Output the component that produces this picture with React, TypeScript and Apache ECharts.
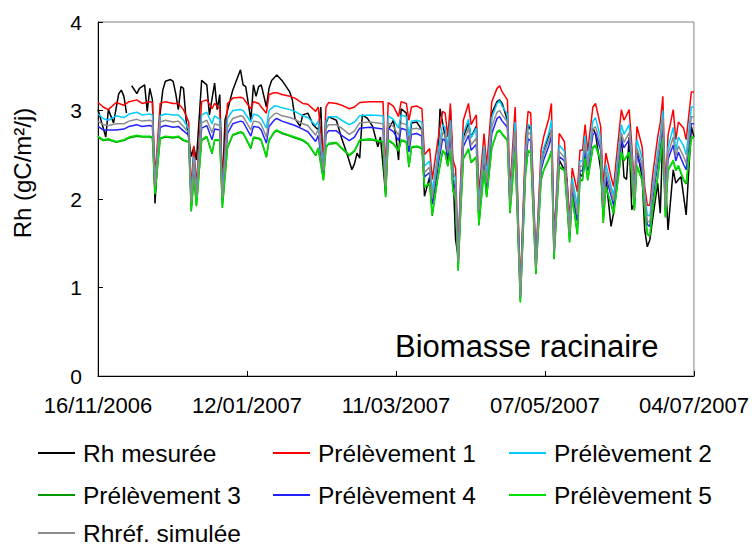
import React, { useEffect, useRef } from "react";
import * as echarts from "echarts";

const dateLabels = ["16/11/2006", "12/01/2007", "11/03/2007", "07/05/2007", "04/07/2007"];

// days since 16/11/2006 for simulated series
const simDays = [
  0, 2, 4, 7, 10, 12, 15, 17, 20, 21,
  22, 24, 26, 29, 31, 33, 35, 36, 37, 38,
  40, 42, 44, 45, 47, 48, 50, 52, 55, 56,
  59, 60, 62, 63, 65, 66, 68, 69, 71, 74,
  76, 79, 81, 84, 85, 87, 88, 89, 92, 94,
  97, 99, 101, 105, 110, 111, 112, 114, 115, 116,
  117, 119, 120, 121, 123, 125, 126, 128, 129, 131,
  133, 134, 135, 136, 137, 138, 139, 140, 141, 143,
  144, 146, 147, 149, 150, 152, 154, 155, 156, 158,
  159, 161, 163, 165, 166, 167, 169, 171, 172, 174,
  175, 176, 178, 180, 181, 182, 183, 185, 186, 187,
  188, 189, 191, 192, 194, 195, 196, 198, 199, 200,
  202, 203, 205, 206, 207, 208, 210, 211, 212, 213,
  214, 216, 217, 218, 219, 220, 222, 223, 224, 226,
  227, 229, 230,
];

const prelevement1 = [
  3.09, 3.04, 3.01, 3.09, 3.06, 3.10, 3.12, 3.08, 3.10, 3.09,
  2.25, 3.08, 3.10, 3.08, 3.08, 3.01, 2.87, 2.10, 2.60, 2.15,
  3.10, 3.12, 3.02, 3.08, 3.02, 2.15, 3.08, 3.14, 3.15, 3.14,
  3.02, 3.10, 3.08, 3.04, 2.97, 3.18, 3.20, 3.20, 3.18, 3.16,
  3.14, 3.08, 3.07, 2.99, 3.04, 2.45, 3.04, 3.09, 3.08, 3.06,
  3.02, 3.04, 3.09, 3.10, 3.10, 2.30, 3.09, 3.05, 2.99, 2.93,
  3.10, 3.08, 2.89, 3.04, 3.05, 3.02, 2.50, 2.57, 2.22, 2.63,
  2.99, 2.97, 2.70, 3.08, 2.44, 2.35, 1.40, 2.25, 2.89, 3.08,
  2.84, 2.95, 2.06, 2.74, 2.37, 3.10, 3.25, 3.28, 3.21, 3.12,
  2.10, 3.04, 0.98, 2.67, 2.99, 2.97, 1.32, 2.55, 2.70, 2.91,
  3.08, 1.48, 2.74, 2.65, 2.22, 1.75, 2.35, 2.08, 2.55, 2.55,
  2.84, 2.54, 3.04, 3.08, 2.82, 2.14, 2.52, 2.25, 2.14, 2.44,
  3.01, 2.89, 3.01, 2.61, 2.14, 2.82, 2.59, 2.14, 1.93, 1.93,
  2.25, 2.70, 2.86, 3.16, 2.05, 2.72, 3.01, 2.67, 2.87, 2.80,
  2.67, 3.21, 3.21,
];

const prelevement2 = [
  2.96, 2.91, 2.89, 2.94, 2.92, 2.96, 2.98, 2.95, 2.96, 2.95,
  2.18, 2.94, 2.96, 2.95, 2.95, 2.89, 2.79, 2.02, 2.48, 2.07,
  2.95, 2.98, 2.85, 2.94, 2.90, 2.07, 2.91, 3.00, 3.01, 3.00,
  2.87, 2.96, 2.94, 2.91, 2.80, 3.00, 3.05, 3.05, 3.03, 3.01,
  2.99, 2.94, 2.92, 2.83, 2.88, 2.37, 2.88, 2.93, 2.93, 2.89,
  2.84, 2.87, 2.94, 2.95, 2.94, 2.21, 2.94, 2.90, 2.85, 2.80,
  2.95, 2.93, 2.71, 2.88, 2.89, 2.87, 2.37, 2.43, 2.08, 2.49,
  2.84, 2.81, 2.59, 2.89, 2.32, 2.23, 1.33, 2.12, 2.74, 2.90,
  2.69, 2.80, 1.94, 2.60, 2.25, 2.92, 3.08, 3.11, 3.05, 2.96,
  2.01, 2.87, 0.93, 2.54, 2.84, 2.82, 1.26, 2.43, 2.57, 2.75,
  2.89, 1.43, 2.61, 2.54, 2.13, 1.67, 2.24, 1.92, 2.43, 2.43,
  2.71, 2.43, 2.88, 2.92, 2.69, 2.00, 2.39, 2.15, 2.04, 2.31,
  2.84, 2.73, 2.84, 2.50, 2.05, 2.67, 2.46, 2.05, 1.82, 1.81,
  2.12, 2.54, 2.73, 3.00, 1.96, 2.58, 2.81, 2.55, 2.70, 2.60,
  2.50, 3.04, 3.04,
];

const prelevement3 = [
  2.70, 2.66, 2.67, 2.64, 2.66, 2.69, 2.71, 2.70, 2.70, 2.69,
  2.05, 2.68, 2.70, 2.69, 2.70, 2.66, 2.64, 1.86, 2.24, 1.92,
  2.66, 2.70, 2.51, 2.66, 2.66, 1.90, 2.58, 2.72, 2.75, 2.74,
  2.57, 2.69, 2.68, 2.66, 2.47, 2.66, 2.75, 2.77, 2.74, 2.71,
  2.69, 2.66, 2.62, 2.49, 2.57, 2.21, 2.58, 2.62, 2.63, 2.57,
  2.49, 2.54, 2.66, 2.67, 2.64, 2.02, 2.66, 2.62, 2.58, 2.54,
  2.66, 2.64, 2.36, 2.58, 2.59, 2.57, 2.13, 2.17, 1.81, 2.21,
  2.54, 2.51, 2.37, 2.54, 2.09, 1.99, 1.19, 1.87, 2.45, 2.56,
  2.41, 2.47, 1.70, 2.32, 2.02, 2.58, 2.75, 2.77, 2.73, 2.66,
  1.84, 2.54, 0.83, 2.28, 2.54, 2.52, 1.15, 2.21, 2.32, 2.45,
  2.54, 1.32, 2.36, 2.32, 1.94, 1.51, 2.02, 1.60, 2.21, 2.21,
  2.45, 2.21, 2.58, 2.60, 2.43, 1.73, 2.13, 1.94, 1.83, 2.05,
  2.52, 2.43, 2.52, 2.28, 1.87, 2.37, 2.21, 1.87, 1.60, 1.58,
  1.87, 2.24, 2.47, 2.69, 1.79, 2.32, 2.43, 2.32, 2.37, 2.21,
  2.17, 2.69, 2.69,
];

const prelevement4 = [
  2.82, 2.78, 2.78, 2.78, 2.79, 2.82, 2.84, 2.82, 2.83, 2.82,
  2.12, 2.81, 2.83, 2.81, 2.82, 2.77, 2.72, 1.94, 2.36, 2.00,
  2.80, 2.83, 2.67, 2.79, 2.78, 1.98, 2.74, 2.85, 2.88, 2.87,
  2.71, 2.82, 2.81, 2.78, 2.63, 2.82, 2.89, 2.91, 2.88, 2.85,
  2.83, 2.79, 2.76, 2.65, 2.72, 2.29, 2.73, 2.77, 2.77, 2.72,
  2.66, 2.70, 2.80, 2.81, 2.79, 2.11, 2.80, 2.76, 2.71, 2.66,
  2.80, 2.78, 2.53, 2.73, 2.74, 2.71, 2.25, 2.30, 1.94, 2.34,
  2.68, 2.66, 2.48, 2.71, 2.20, 2.11, 1.26, 1.99, 2.59, 2.72,
  2.55, 2.62, 1.82, 2.45, 2.13, 2.74, 2.91, 2.93, 2.88, 2.81,
  1.93, 2.70, 0.88, 2.40, 2.68, 2.66, 1.21, 2.32, 2.44, 2.60,
  2.71, 1.38, 2.48, 2.43, 2.03, 1.59, 2.13, 1.75, 2.32, 2.32,
  2.57, 2.32, 2.73, 2.75, 2.55, 1.86, 2.25, 2.04, 1.93, 2.17,
  2.67, 2.58, 2.67, 2.39, 1.96, 2.51, 2.33, 1.96, 1.71, 1.69,
  1.99, 2.39, 2.59, 2.84, 1.88, 2.45, 2.61, 2.43, 2.53, 2.39,
  2.33, 2.85, 2.85,
];

const prelevement5 = [
  2.71, 2.67, 2.68, 2.65, 2.67, 2.70, 2.72, 2.71, 2.71, 2.70,
  2.06, 2.69, 2.71, 2.70, 2.71, 2.67, 2.65, 1.87, 2.25, 1.93,
  2.67, 2.71, 2.52, 2.67, 2.67, 1.91, 2.59, 2.73, 2.76, 2.75,
  2.58, 2.70, 2.69, 2.67, 2.48, 2.67, 2.76, 2.78, 2.75, 2.72,
  2.70, 2.67, 2.63, 2.50, 2.58, 2.22, 2.59, 2.63, 2.64, 2.58,
  2.50, 2.55, 2.67, 2.68, 2.65, 2.03, 2.67, 2.63, 2.59, 2.55,
  2.67, 2.65, 2.37, 2.59, 2.60, 2.58, 2.14, 2.18, 1.82, 2.22,
  2.55, 2.52, 2.38, 2.55, 2.10, 2.00, 1.20, 1.88, 2.46, 2.57,
  2.42, 2.48, 1.71, 2.33, 2.03, 2.59, 2.76, 2.78, 2.74, 2.67,
  1.85, 2.55, 0.84, 2.29, 2.55, 2.53, 1.16, 2.22, 2.33, 2.46,
  2.55, 1.33, 2.37, 2.33, 1.95, 1.52, 2.03, 1.61, 2.22, 2.22,
  2.46, 2.22, 2.59, 2.61, 2.44, 1.74, 2.14, 1.95, 1.84, 2.06,
  2.53, 2.44, 2.53, 2.29, 1.88, 2.38, 2.22, 1.88, 1.61, 1.59,
  1.88, 2.25, 2.48, 2.70, 1.80, 2.33, 2.44, 2.33, 2.38, 2.22,
  2.18, 2.70, 2.70,
];

const rhrefSimulee = [
  2.88, 2.84, 2.83, 2.85, 2.85, 2.88, 2.90, 2.88, 2.89, 2.88,
  2.15, 2.87, 2.89, 2.87, 2.88, 2.82, 2.75, 1.97, 2.41, 2.03,
  2.86, 2.89, 2.75, 2.85, 2.83, 2.02, 2.81, 2.91, 2.94, 2.93,
  2.78, 2.88, 2.87, 2.84, 2.70, 2.90, 2.96, 2.97, 2.94, 2.92,
  2.90, 2.85, 2.83, 2.72, 2.79, 2.32, 2.79, 2.84, 2.84, 2.80,
  2.73, 2.77, 2.86, 2.87, 2.85, 2.15, 2.86, 2.82, 2.77, 2.72,
  2.86, 2.84, 2.60, 2.79, 2.80, 2.78, 2.30, 2.36, 2.00, 2.40,
  2.75, 2.72, 2.52, 2.79, 2.25, 2.16, 1.29, 2.05, 2.65, 2.80,
  2.61, 2.69, 1.87, 2.51, 2.18, 2.82, 2.98, 3.00, 2.95, 2.87,
  1.96, 2.77, 0.90, 2.46, 2.75, 2.73, 1.23, 2.37, 2.50, 2.66,
  2.79, 1.40, 2.54, 2.47, 2.07, 1.62, 2.17, 1.82, 2.37, 2.37,
  2.63, 2.36, 2.79, 2.82, 2.61, 1.92, 2.31, 2.09, 1.98, 2.23,
  2.75, 2.64, 2.75, 2.43, 2.00, 2.58, 2.39, 2.00, 1.75, 1.74,
  2.05, 2.45, 2.65, 2.91, 1.91, 2.51, 2.70, 2.48, 2.60, 2.48,
  2.40, 2.93, 2.93,
];

// measured series (own sampling days, null = missing)
const measuredDays = [
  0, 3, 4, 6, 8, 9, 10, 11, 12, 13,
  15, 16, 18, 19, 20, 21, 22, 24, 25, 26,
  28, 29, 30, 31, 32, 33, 34, 36, 37, 38,
  40, 42, 43, 45, 46, 47, 48, 49, 52, 55,
  56, 57, 59, 60, 61, 62, 63, 65, 66, 67,
  69, 71, 74, 75, 76, 78, 79, 81, 83, 85,
  86, 87, 88, 89, 92, 94, 96, 98, 99, 100,
  101, 102, 104, 106, 108, 109, 111, 112, 114, 115,
  116, 117, 119, 120, 121, 123, 125, 126, 128, 129,
  131, 132, 134, 135, 136, 137, 138, 139, 140, 141,
  143, 144, 146, 147, 149, 150, 152, 154, 155, 156,
  158, 159, 161, 163, 165, 166, 167, 169, 171, 172,
  174, 175, 176, 178, 180, 181, 182, 183, 185, 186,
  187, 188, 189, 191, 192, 194, 195, 196, 198, 199,
  200, 202, 203, 204, 205, 206, 207, 208, 210, 211,
  212, 213, 214, 216, 217, 218, 219, 220, 222, 223,
  224, 225, 227, 229, 230,
];

const rhMesuree: (number | null)[] = [
  3.01, 2.70, 3.01, 2.86, 3.19, 3.23, 3.16, 2.97, null, 3.28,
  3.19, 3.25, 3.29, 2.99, 3.25, 3.12, 1.95, 2.97, 3.23, 3.33,
  3.35, 3.33, 3.19, 3.01, 3.27, 3.25, 2.89, 2.48, 2.59, 2.44,
  3.34, 3.29, 2.95, 3.31, 3.01, 3.18, 2.10, 2.89, 3.23, 3.46,
  3.29, 3.27, 2.89, 3.29, 3.16, 3.27, 3.29, 3.04, 3.25, 3.34,
  3.40, 3.34, 3.21, 3.12, 2.91, 2.82, 2.95, 2.97, 2.84, 2.78,
  3.04, 2.25, 2.86, 2.93, 2.89, 2.69, 2.52, 2.33, 2.40, 2.52,
  2.46, 2.95, 2.91, 2.82, 2.59, 2.70, 2.06, 2.78, 2.89, 2.70,
  2.44, 3.02, 2.97, 2.55, 2.86, 2.87, 2.78, 2.03, 2.25, 1.95,
  2.33, 3.02, 2.70, 2.40, 3.01, 2.33, 1.54, 1.35, 2.14, 2.70,
  2.86, 2.70, 2.82, 1.88, 2.52, 2.06, 2.97, 3.10, 3.12, 3.08,
  2.89, 1.95, 2.84, 0.95, 2.52, 2.84, 2.78, 1.27, 2.40, 2.55,
  2.72, 2.78, 1.57, 2.44, 2.33, 2.22, 1.65, 2.06, 1.76, 2.29,
  2.25, 2.48, 2.33, 2.80, 2.74, 2.33, 1.80, 2.25, 1.69, 1.84,
  2.22, 2.70, 2.25, 2.22, 2.70, 1.88, 1.95, 2.55, 2.25, 1.65,
  1.46, 1.54, 1.76, 2.18, 1.84, 2.74, 2.22, 1.65, 2.33, 2.18,
  2.22, 2.25, 1.82, 2.82, 2.70,
];

const FONT = "'Liberation Sans', Arial, Helvetica, sans-serif";

function pairs(days: number[], vals: (number | null)[]) {
  return days.map((d, i) => [d, vals[i] === null ? "-" : vals[i]]);
}

export default function App() {
  const ref = useRef<HTMLDivElement>(null);
  useEffect(() => {
    const chart = echarts.init(ref.current!, null, { renderer: "svg" });
    const line = (name: string, color: string, data: any[], width = 1.5) => ({
      name,
      type: "line",
      data,
      symbol: "none",
      showSymbol: false,
      connectNulls: false,
      lineStyle: { color, width },
      itemStyle: { color },
      emphasis: { disabled: true },
    });
    const legendItem = (name: string, left: number, top: number) => ({
      orient: "horizontal",
      left,
      top,
      icon: "rect",
      itemWidth: 37,
      itemHeight: 2,
      padding: 0,
      selectedMode: false,
      data: [name],
      textStyle: { fontSize: 24.5, color: "#000", fontFamily: FONT, lineHeight: 26, padding: [0, 0, 0, 3] },
    });
    chart.setOption({
      animation: false,
      backgroundColor: "#fff",
      textStyle: { fontFamily: FONT },
      grid: {
        left: 98,
        top: 22,
        right: 56,
        bottom: 171,
        show: true,
        borderColor: "#808080",
        borderWidth: 1,
        backgroundColor: "transparent",
      },
      legend: [
        legendItem("Rh mesurée", 38, 440),
        legendItem("Prélèvement 1", 273, 440),
        legendItem("Prélèvement 2", 509, 440),
        legendItem("Prélèvement 3", 38, 482),
        legendItem("Prélèvement 4", 273, 482),
        legendItem("Prélèvement 5", 509, 482),
        legendItem("Rhréf. simulée", 38, 520),
      ],
      graphic: [
        {
          type: "text",
          x: 395,
          y: 346,
          style: {
            text: "Biomasse racinaire",
            fontSize: 31,
            fontFamily: FONT,
            fill: "#000",
            verticalAlign: "middle",
            align: "left",
          },
        },
        {
          type: "text",
          x: 22,
          y: 173,
          rotation: Math.PI / 2,
          style: {
            text: "Rh (gC/m²/j)",
            fontSize: 24,
            fontFamily: FONT,
            fill: "#000",
            verticalAlign: "middle",
            align: "center",
          },
        },
      ],
      xAxis: {
        type: "value",
        min: 0,
        max: 230,
        interval: 57.5,
        axisLine: { show: true, onZero: false, lineStyle: { color: "#000", width: 1 } },
        axisTick: { show: true, inside: true, length: 5, lineStyle: { color: "#000" } },
        splitLine: { show: false },
        axisLabel: {
          fontSize: 22,
          color: "#000",
          fontFamily: FONT,
          margin: 18,
          showMinLabel: true,
          showMaxLabel: true,
          formatter: (v: number) => dateLabels[Math.round(v / 57.5)] ?? "",
        },
      },
      yAxis: {
        type: "value",
        min: 0,
        max: 4,
        interval: 1,
        axisLine: { show: true, lineStyle: { color: "#000", width: 1 } },
        axisTick: { show: true, inside: true, length: 5, lineStyle: { color: "#000" } },
        splitLine: { show: false },
        axisLabel: { fontSize: 21, color: "#000", fontFamily: FONT, margin: 16 },
      },
      series: [
        line("Rh mesurée", "#000000", pairs(measuredDays, rhMesuree)),
        line("Prélèvement 1", "#ff0000", pairs(simDays, prelevement1)),
        line("Prélèvement 2", "#00ccff", pairs(simDays, prelevement2)),
        line("Prélèvement 3", "#009900", pairs(simDays, prelevement3)),
        line("Prélèvement 4", "#2222ff", pairs(simDays, prelevement4)),
        line("Prélèvement 5", "#00e000", pairs(simDays, prelevement5)),
        line("Rhréf. simulée", "#8c8c8c", pairs(simDays, rhrefSimulee)),
      ],
    });
    return () => chart.dispose();
  }, []);
  return (
    <div
      ref={ref}
      style={{ position: "fixed", left: 0, top: 0, width: 752, height: 547, background: "#fff" }}
    />
  );
}
